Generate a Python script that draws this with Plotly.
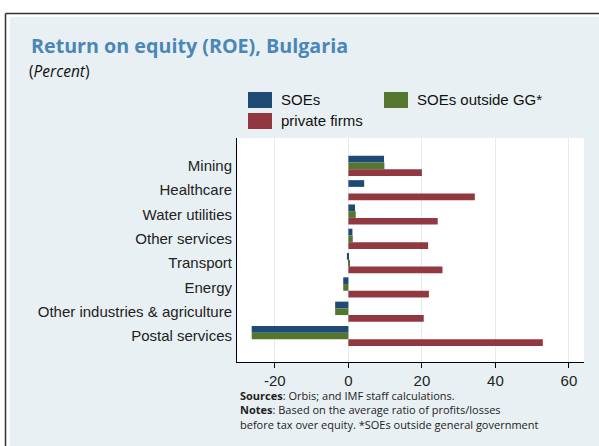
import plotly.graph_objects as go

# Data (percent)
sectors = ['Mining', 'Healthcare', 'Water utilities', 'Other services', 'Transport',
           'Energy', 'Other industries & agriculture', 'Postal services']
soes = [9.7, 4.3, 1.8, 1.1, -0.4, -1.4, -3.6, -26.3]
soes_outside_gg = [9.8, None, 2.0, 1.2, 0.4, -1.4, -3.6, -26.3]
private_firms = [20.0, 34.4, 24.3, 21.7, 25.6, 21.9, 20.5, 52.9]
x_ticks = [-20, 0, 20, 40, 60]
x_tick_labels = ['-20', '0', '20', '40', '60']

colors = {'SOEs': '#1e4a75', 'SOEs outside GG*': '#55762f', 'private firms': '#913841'}

W, H = 599, 446
L, R, T, B = 237, 584, 138, 362  # plot area in pixels


def px(x):
    return (x - L) / (R - L)


def py(y):
    return (B - y) / (B - T)


fig = go.Figure()
for name, vals in [('SOEs', soes), ('SOEs outside GG*', soes_outside_gg), ('private firms', private_firms)]:
    fig.add_trace(go.Bar(y=sectors, x=vals, name=name, orientation='h',
                         marker=dict(color=colors[name], line=dict(width=0))))

shapes = [
    # white gap along top and left, then the frame lines
    dict(type='rect', xref='paper', yref='paper', x0=px(0), x1=px(W), y0=py(17), y1=py(0),
         fillcolor='white', line=dict(width=0), layer='below'),
    dict(type='rect', xref='paper', yref='paper', x0=px(0), x1=px(10), y0=py(H), y1=py(0),
         fillcolor='white', line=dict(width=0), layer='below'),
    dict(type='line', xref='paper', yref='paper', x0=px(5.5), x1=px(W), y0=py(13.5), y1=py(13.5),
         line=dict(color='#333333', width=1.5)),
    dict(type='line', xref='paper', yref='paper', x0=px(5.5), x1=px(5.5), y0=py(13.5), y1=py(H),
         line=dict(color='#333333', width=1.5)),
]

footer = ('<b>Sources</b>: Orbis; and IMF staff calculations.<br>'
          '<b>Notes</b>: Based on the average ratio of profits/losses<br>'
          'before tax over equity. *SOEs outside general government')

annotations = [
    dict(text='<b>Return on equity (ROE), Bulgaria</b>', x=px(29), y=py(45), xanchor='left', yanchor='middle',
         font=dict(family='Open Sans', size=19.7, color='#4a87b8')),
    dict(text='(<i>Percent</i>)', x=px(27), y=py(71), xanchor='left', yanchor='middle',
         font=dict(family='Open Sans', size=15.5, color='#111111')),
    dict(text=footer, x=px(238), y=py(410), xanchor='left', yanchor='middle', align='left',
         font=dict(family='Open Sans', size=11, color='#222222')),
]

# hand-drawn legend: wide rectangular keys
legend_items = [('SOEs', 248, 100), ('SOEs outside GG*', 384, 100), ('private firms', 248, 121)]
for name, lx, ly in legend_items:
    shapes.append(dict(type='rect', xref='paper', yref='paper', x0=px(lx), x1=px(lx + 24),
                       y0=py(ly + 8), y1=py(ly - 8), fillcolor=colors[name], line=dict(width=0)))
    annotations.append(dict(text=name, x=px(lx + 31), y=py(ly), xanchor='left', yanchor='middle',
                            font=dict(family='Liberation Sans, Arial', size=15, color='#111111')))

for a in annotations:
    a.update(xref='paper', yref='paper', showarrow=False)

fig.update_layout(
    width=W, height=H,
    margin=dict(l=L, r=W - R, t=T, b=H - B, pad=0),
    paper_bgcolor='#e9f0f3',
    plot_bgcolor='white',
    barmode='group',
    bargap=0.17,
    bargroupgap=0,
    showlegend=False,
    font=dict(family='Liberation Sans, Arial', size=15, color='#222222'),
    shapes=shapes,
    annotations=annotations,
    xaxis=dict(range=[-30.3, 64.1], tickvals=x_ticks, ticktext=x_tick_labels, showgrid=True,
               gridcolor='#e3ecf0', gridwidth=1, zeroline=False, showline=True, linecolor='black',
               linewidth=1, ticks='outside', ticklen=5, tickcolor='black', fixedrange=True),
    yaxis=dict(range=[8.07, -1.15], showgrid=False, zeroline=False, showline=True,
               linecolor='black', linewidth=1, ticks='', ticklabelstandoff=1),
)

fig.write_html("out.html", config={'displayModeBar': False},
               post_script="document.body.style.margin='0px';")
